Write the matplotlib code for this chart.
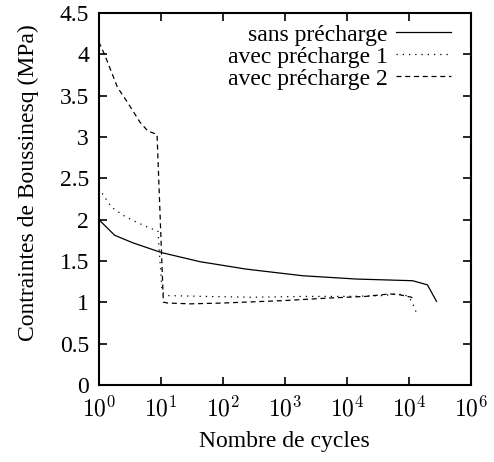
import numpy as np
import matplotlib
matplotlib.use('Agg')
import matplotlib.pyplot as plt
from matplotlib.ticker import FixedLocator, FixedFormatter

plt.rcParams['font.family'] = ['Liberation Serif', 'DejaVu Serif']
plt.rcParams['mathtext.fontset'] = 'cm'

# sans precharge
x_sans = [1, 1.8, 3.5, 10.3, 43, 240, 1950, 14500, 115000, 200000, 280000]
y_sans = [2.0, 1.81, 1.72, 1.60, 1.49, 1.40, 1.32, 1.28, 1.26, 1.21, 1.01]

# avec precharge 1
x_pre1 = [1, 1.6, 2.5, 4, 6.5, 9, 10.5, 13, 50, 300, 2000, 10000, 40000, 60000, 87000, 110000, 135000]
y_pre1 = [2.38, 2.15, 2.05, 1.97, 1.90, 1.86, 1.12, 1.08, 1.07, 1.06, 1.07, 1.07, 1.08, 1.10, 1.09, 1.02, 0.86]

# avec precharge 2
x_pre2 = [1, 1.25, 2.0, 2.95, 4.6, 6.2, 8.7, 11, 13, 30, 100, 1000, 5000, 20000, 49000, 71000, 110000, 125000]
y_pre2 = [4.15, 3.99, 3.60, 3.41, 3.18, 3.07, 3.03, 1.0, 0.99, 0.98, 0.99, 1.02, 1.05, 1.07, 1.10, 1.09, 1.06, 1.04]

xticks = [1, 10, 100, 1000, 10000, 100000, 1000000]
xticklabels = [r'$10^0$', r'$10^1$', r'$10^2$', r'$10^3$', r'$10^4$', r'$10^4$', r'$10^6$']
yticks = [0, 0.5, 1, 1.5, 2, 2.5, 3, 3.5, 4, 4.5]
yticklabels = ['0', '0.5', '1', '1.5', '2', '2.5', '3', '3.5', '4', '4.5']

fig = plt.figure(figsize=(4.94, 4.62), dpi=100)
ax = fig.add_axes([0.200, 0.167, 0.753, 0.805])

ax.plot(x_sans, y_sans, color='black', linewidth=0.9, linestyle='-', label='sans précharge')
ax.plot(x_pre1, y_pre1, color='black', linewidth=0.9, linestyle=(0, (1, 4)), label='avec précharge 1')
ax.plot(x_pre2, y_pre2, color='black', linewidth=0.9, linestyle=(0, (4, 3)), label='avec précharge 2')

ax.set_xscale('log')
ax.set_xlim(1, 1e6)
ax.set_ylim(0, 4.5)
ax.xaxis.set_major_locator(FixedLocator(xticks))
ax.xaxis.set_major_formatter(FixedFormatter(xticklabels))
ax.xaxis.set_minor_locator(FixedLocator([]))
ax.set_yticks(yticks)
ax.set_yticklabels(yticklabels)

ax.tick_params(axis='both', which='major', direction='in', top=True, right=True,
               length=6, width=1.2, labelsize=17)
ax.tick_params(axis='x', pad=8)
ax.tick_params(axis='y', pad=7)
for s in ax.spines.values():
    s.set_linewidth(1.5)

ax.set_xlabel('Nombre de cycles', fontsize=17, labelpad=7)
ax.set_ylabel('Contraintes de Boussinesq (MPa)', fontsize=17)
ax.yaxis.set_label_coords(-0.16, 0.545)

ax.legend(loc='upper right', bbox_to_anchor=(0.952, 0.976), frameon=False, markerfirst=False,
          fontsize=17, handlelength=2.3, handletextpad=0.35, labelspacing=0.02,
          borderaxespad=0.0, borderpad=0.1)

fig.savefig('out.png', dpi=100)
